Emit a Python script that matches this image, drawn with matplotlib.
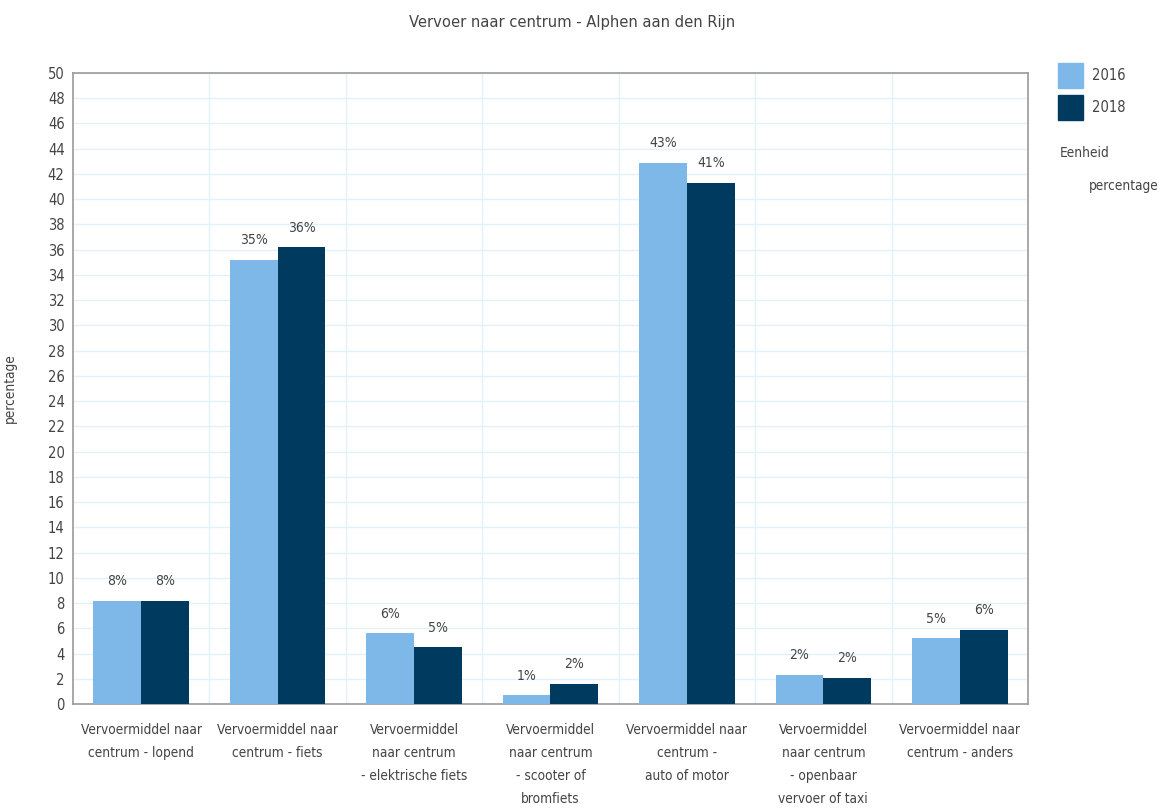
import matplotlib as mpl
mpl.use('Agg')
import matplotlib.pyplot as plt
import matplotlib.ticker as ticker
from matplotlib.patches import Rectangle
import numpy as np

categories = ['Vervoermiddel naar\ncentrum - lopend',
              'Vervoermiddel naar\ncentrum - fiets',
              'Vervoermiddel\nnaar centrum\n- elektrische fiets',
              'Vervoermiddel\nnaar centrum\n- scooter of\nbromfiets',
              'Vervoermiddel naar\ncentrum -\nauto of motor',
              'Vervoermiddel\nnaar centrum\n- openbaar\nvervoer of taxi',
              'Vervoermiddel naar\ncentrum - anders']
vals_2016 = [8.2, 35.2, 5.6, 0.7, 42.9, 2.3, 5.2]
vals_2018 = [8.2, 36.2, 4.5, 1.6, 41.3, 2.1, 5.9]
labels_2016 = ['8%', '35%', '6%', '1%', '43%', '2%', '5%']
labels_2018 = ['8%', '36%', '5%', '2%', '41%', '2%', '6%']
years = ['2016', '2018']

c16 = '#7db8e8'
c18 = '#003a5e'
txt = '#444444'
plt.rcParams['font.family'] = ['DejaVu Sans']
plt.rcParams['font.stretch'] = 'condensed'

fig = plt.figure(figsize=(11.62, 8.08), dpi=100)
ax = fig.add_axes([0.0628, 0.1287, 0.8219, 0.781])

x = np.arange(len(categories))
w = 0.35
ax.bar(x - w/2, vals_2016, w, color=c16, zorder=3)
ax.bar(x + w/2, vals_2018, w, color=c18, zorder=3)
for i in range(len(x)):
    ax.text(x[i] - w/2, vals_2016[i] + 1.0, labels_2016[i], ha='center', va='bottom', fontsize=10, color=txt)
    ax.text(x[i] + w/2, vals_2018[i] + 1.0, labels_2018[i], ha='center', va='bottom', fontsize=10, color=txt)

ax.set_xlim(-0.5, len(categories) - 0.5)
ax.set_ylim(0, 50)
ax.yaxis.set_major_locator(ticker.MultipleLocator(2))
ax.set_xticks(x)
ax.set_xticklabels(categories, fontsize=9.8, color=txt, linespacing=1.8, va='top')
ax.tick_params(axis='x', length=0, pad=14)
ax.tick_params(axis='y', length=0, labelsize=10.5, labelcolor=txt, pad=6)
ax.set_xticks(np.arange(len(categories) - 1) + 0.5, minor=True)
ax.grid(axis='y', which='major', color='#e3f1fa', lw=1, zorder=0)
ax.grid(axis='x', which='minor', color='#e3f1fa', lw=1, zorder=0)
ax.tick_params(axis='x', which='minor', length=0)
for s in ax.spines.values():
    s.set_color('#9a9a9a')
    s.set_linewidth(1.2)
ax.set_ylabel('percentage', fontsize=9.8, color=txt, labelpad=22)

fig.text(0.492, 0.972, 'Vervoer naar centrum - Alphen aan den Rijn', ha='center', va='center', fontsize=11.8, color=txt)

# legend on the right
W, H = 1162, 808
for k, (yr, c) in enumerate(zip(years, [c16, c18])):
    y0 = 63 + 32 * k
    fig.patches.append(Rectangle((1058 / W, 1 - (y0 + 25) / H), 25 / W, 25 / H,
                                 transform=fig.transFigure, color=c))
    fig.text(1092 / W, 1 - (y0 + 12.5) / H, yr, ha='left', va='center', fontsize=10.5, color=txt)
fig.text(1060 / W, 1 - 153 / H, 'Eenheid', ha='left', va='center', fontsize=9.8, color=txt)
fig.text(1089 / W, 1 - 186 / H, 'percentage', ha='left', va='center', fontsize=9.8, color=txt)

fig.savefig('out.png', dpi=100)
